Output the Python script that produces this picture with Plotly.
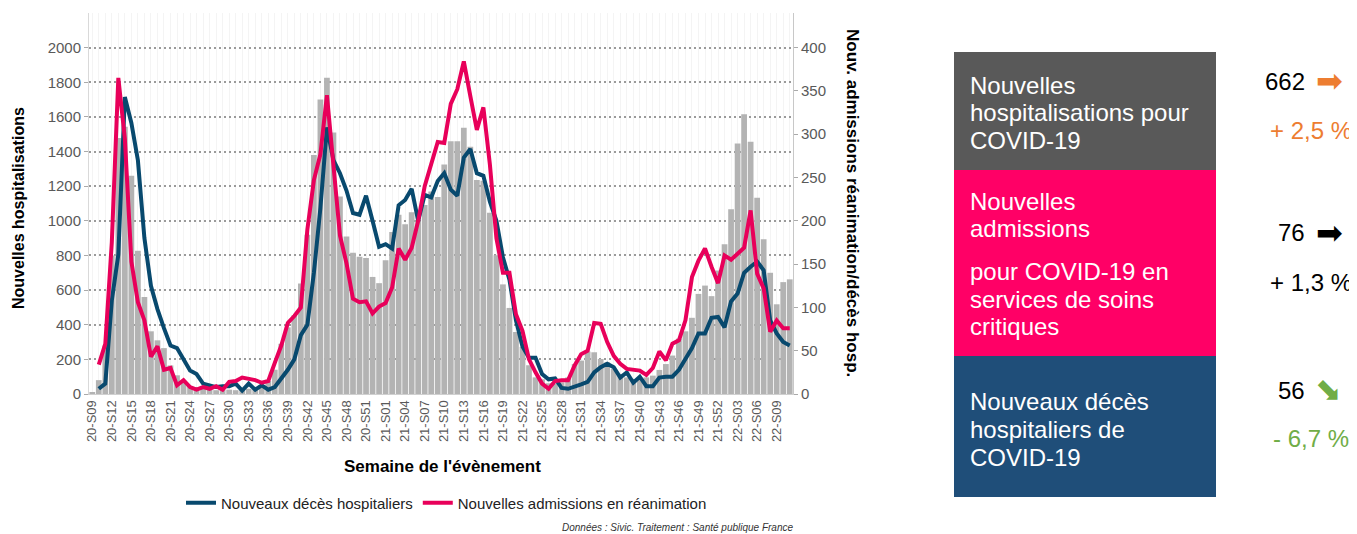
import plotly.graph_objects as go

# Week labels 20-S09 ... 22-S11
weeks = ([f"20-S{w:02d}" for w in range(9, 54)] +
         [f"21-S{w:02d}" for w in range(1, 53)] +
         [f"22-S{w:02d}" for w in range(1, 12)])
tick_labels = [w if i % 3 == 0 else "" for i, w in enumerate(weeks)]

# Nouvelles hospitalisations (bars, left axis)
hospitalisations = [
    10, 80, 280, 800, 1478, 1543, 1260, 827, 560, 362,
    310, 265, 165, 108, 70, 45, 38, 30, 25, 22,
    25, 25, 22, 28, 30, 40, 50, 75, 140, 290,
    385, 455, 638, 920, 1380, 1700, 1826, 1510, 1140, 910,
    816, 792, 785, 676, 640, 772, 935, 1035, 980, 1050,
    995, 1092, 1170, 1138, 1325, 1460, 1460, 1537, 1428, 1235,
    1232, 1046, 801, 633, 497, 358, 272, 166, 96, 85,
    62, 58, 67, 96, 173, 193, 245, 241, 202, 183,
    145, 116, 96, 87, 87, 96, 106, 139, 173, 222,
    320, 362, 440, 578, 626, 565, 713, 864, 1067, 1447,
    1616, 1457, 1133, 893, 700, 518, 646, 662,
]

# Nouvelles admissions en réanimation (right axis)
reanimation = [
    None, 34, 58, 175, 365, 295, 153, 106, 85, 43,
    55, 28, 30, 10, 16, 8, 5, 8, 6, 9,
    5, 14, 15, 19, 18, 16, 13, 15, 36, 56,
    82, 90, 100, 190, 247, 277, 345, 266, 183, 151,
    110, 106, 107, 93, 101, 105, 123, 168, 155, 169,
    200, 240, 264, 291, 290, 335, 352, 384, 344, 305,
    331, 265, 180, 140, 140, 92, 73, 40, 25, 12,
    6, 15, 16, 16, 33, 46, 50, 82, 81, 60,
    44, 35, 29, 28, 27, 22, 30, 49, 39, 58,
    62, 85, 135, 154, 168, 147, 128, 160, 155, 162,
    169, 212, 139, 122, 72, 85, 76, 76,
]

# Nouveaux décès hospitaliers (right axis)
deces = [
    None, 6, 12, 108, 161, 343, 313, 270, 180, 125,
    98, 76, 56, 53, 41, 27, 23, 12, 10, 8,
    9, 9, 12, 4, 12, 5, 10, 5, 8, 18,
    28, 40, 68, 80, 140, 215, 308, 270, 255, 235,
    209, 207, 229, 200, 170, 173, 168, 218, 224, 237,
    200, 230, 227, 246, 255, 236, 229, 273, 283, 255,
    252, 222, 200, 158, 132, 85, 55, 42, 42, 23,
    17, 18, 7, 6, 8, 11, 14, 25, 31, 35,
    31, 19, 25, 13, 20, 9, 9, 19, 20, 20,
    28, 40, 53, 70, 70, 88, 89, 77, 107, 116,
    140, 147, 153, 143, 85, 70, 60, 56,
]

left_ticks = list(range(0, 2001, 200))
right_ticks = list(range(0, 401, 50))

# Side panel
panel_boxes = [
    ("#595959", 52, 170, [("Nouvelles", 86), ("hospitalisations pour", 112), ("COVID-19", 140)]),
    ("#ff0066", 170, 356, [("Nouvelles", 201), ("admissions", 228), ("pour COVID-19 en", 271),
                           ("services de soins", 299), ("critiques", 326)]),
    ("#1f4e79", 356, 497, [("Nouveaux décès", 401), ("hospitaliers de", 429), ("COVID-19", 457)]),
]
# value, arrow angle, arrow colour, y, change, change colour, y
panel_values = [("662", 0, "#ed7d31", 81, "+ 2,5 %", "#ed7d31", 131),
                ("76", 0, "#000000", 233, "+ 1,3 %", "#000000", 282),
                ("56", 45, "#70ad47", 390, "- 6,7 %", "#70ad47", 438)]

FONT = "Arial, Liberation Sans, sans-serif"
OFF = 8                      # page body margin
FIG_W, FIG_H = 1357 - OFF, 534 - OFF
L, T, W, H = 89, 13, 704, 381  # plot area in screen pixels


def px(x):
    return (x - L) / W


def py(y):
    return (T + H - y) / H


def note(text, x, y, size, color="black", family=FONT, xanchor="center", angle=0):
    return dict(text=text, x=px(x), y=py(y), xref="paper", yref="paper", xanchor=xanchor,
                yanchor="middle", showarrow=False, textangle=angle,
                font=dict(family=family, size=size, color=color))


fig = go.Figure()
fig.add_trace(go.Bar(x=weeks, y=hospitalisations, marker=dict(color="#b3b3b3", line=dict(width=0)),
                     showlegend=False, yaxis="y"))
fig.add_trace(go.Scatter(x=weeks, y=deces, mode="lines", name="Nouveaux décès hospitaliers",
                         line=dict(color="#08496e", width=4), yaxis="y2"))
fig.add_trace(go.Scatter(x=weeks, y=reanimation, mode="lines", name="Nouvelles admissions en réanimation",
                         line=dict(color="#e8005a", width=4), yaxis="y2"))

shapes, annotations = [], []
for color, y0, y1, lines in panel_boxes:
    shapes.append(dict(type="rect", xref="paper", yref="paper", x0=px(954), x1=px(1216),
                       y0=py(y1), y1=py(y0), fillcolor=color, line=dict(width=0), layer="above"))
    for txt, yc in lines:
        annotations.append(note(txt, 968, yc, 24, "white", xanchor="left"))

for num, ang, acol, ynum, pct, pcol, ypct in panel_values:
    annotations.append(note(num, 1307, ynum, 24, xanchor="right"))
    annotations.append(note("➡", 1329, ynum, 32, acol, family="DejaVu Sans", angle=ang))
    annotations.append(note(pct, 1311, ypct, 24, pcol))

annotations.append(note("<b>Nouvelles hospitalisations</b>", 18, 208, 16, angle=-90))
annotations.append(note("<b>Nouv. admissions réanimation/décès hosp.</b>", 853, 203, 17, angle=90))
annotations.append(note("<b>Semaine de l'évènement</b>", 442, 466, 17))
annotations.append(note("<i>Données : Sivic. Traitement : Santé publique France</i>", 795, 527, 10,
                        "#333", xanchor="right"))

fig.update_layout(
    width=FIG_W, height=FIG_H,
    margin=dict(l=L - OFF, r=FIG_W - (L - OFF) - W, t=T - OFF, b=FIG_H - (T - OFF) - H),
    paper_bgcolor="white", plot_bgcolor="white",
    font=dict(family=FONT, color="#555"),
    bargap=0.12,
    xaxis=dict(type="category", tickmode="array", tickvals=weeks, ticktext=tick_labels,
               tickangle=-90, tickfont=dict(size=13, color="#595959"), range=[-0.5, len(weeks) - 0.5],
               showgrid=True, gridcolor="#f4f4f4", gridwidth=1, ticks="",
               showline=True, linecolor="#d0d0d0", linewidth=1),
    yaxis=dict(range=[0, 2200], tickvals=left_ticks, tickfont=dict(size=15, color="#595959"),
               showgrid=True, gridcolor="#9a9a9a", gridwidth=1.5, griddash="1.5px,3.5px",
               zeroline=False, ticks="outside", ticklen=4, tickcolor="#aaaaaa",
               showline=True, linecolor="#d9d9d9"),
    yaxis2=dict(range=[0, 440], tickvals=right_ticks, overlaying="y", side="right",
                tickfont=dict(size=15, color="#595959"), showgrid=False, zeroline=False,
                ticks="outside", ticklen=4, tickcolor="#aaaaaa", showline=True, linecolor="#c8c8c8"),
    legend=dict(orientation="h", xref="container", yref="container",
                x=(181 - OFF) / FIG_W, y=1 - (503 - OFF) / FIG_H,
                xanchor="left", yanchor="middle", font=dict(family=FONT, size=15, color="#222")),
    shapes=shapes, annotations=annotations,
)

fig.write_html("out.html")
